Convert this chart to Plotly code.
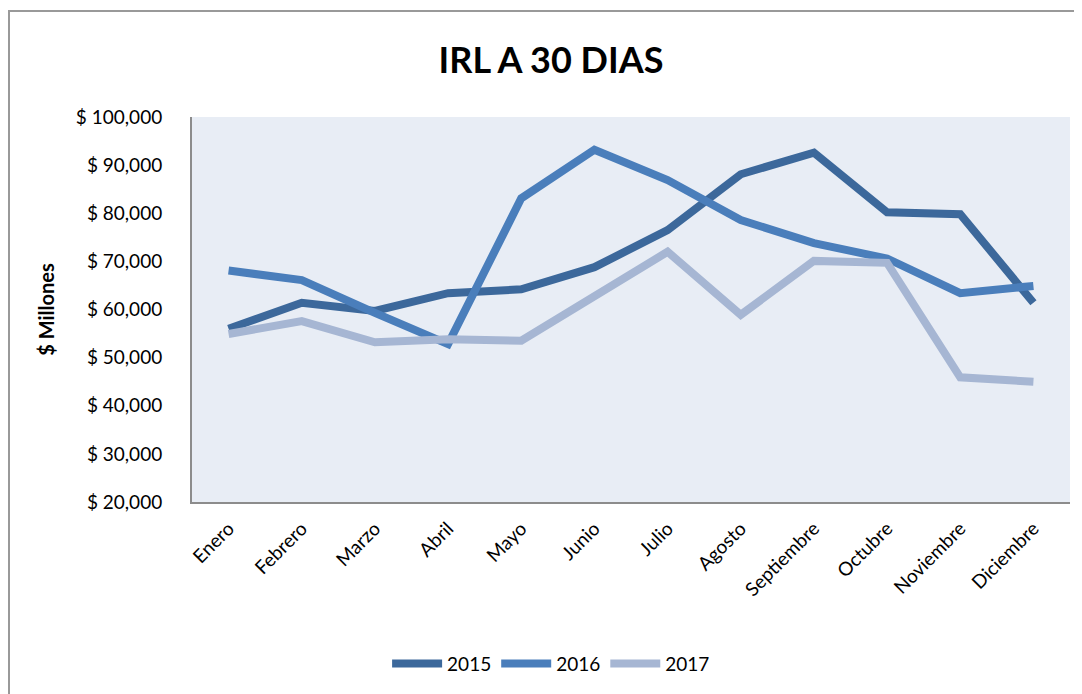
import plotly.graph_objects as go

months = ["Enero", "Febrero", "Marzo", "Abril", "Mayo", "Junio", "Julio",
          "Agosto", "Septiembre", "Octubre", "Noviembre", "Diciembre"]
v2015 = [56000, 61400, 59700, 63400, 64200, 68800, 76500, 88100, 92600, 80200, 79800, 61400]
v2016 = [68100, 66100, 59300, 52800, 83100, 93200, 86900, 78600, 73800, 70600, 63400, 64900]
v2017 = [54900, 57600, 53200, 53800, 53500, 62600, 72000, 58900, 70100, 69700, 45900, 45000]

series = [("2015", v2015, "#3C689B"), ("2016", v2016, "#4A7EBB"), ("2017", v2017, "#A6B6D3")]

FONT = "Lato, 'Open Sans', sans-serif"

W, H = 1074, 686  # page body has an 8px margin
L, T, PW, PH = 184, 109, 878, 385

fig = go.Figure()
for name, vals, col in series:
    fig.add_trace(go.Scatter(x=months, y=vals, name=name, mode="lines",
                             line=dict(color=col, width=8)))

fig.update_layout(
    width=W, height=H,
    margin=dict(l=L, r=W - L - PW, t=T, b=H - T - PH, autoexpand=False),
    paper_bgcolor="white",
    plot_bgcolor="#E8EDF5",
    font=dict(family=FONT, size=19, color="#000"),
    title=dict(text="<b>IRL A 30 DIAS</b>", x=543 / W, xref="container", xanchor="center",
               y=1 - 52 / H, yref="container", yanchor="middle",
               font=dict(size=36, family=FONT, color="#000")),
    showlegend=True,
    legend=dict(orientation="h", x=0.409, xanchor="center", y=-0.42, yanchor="middle",
                font=dict(size=19), itemwidth=50, bgcolor="rgba(0,0,0,0)"),
    xaxis=dict(range=[-0.5, 11.5], showgrid=False, showline=True, linecolor="#8C8C8C",
               linewidth=2, tickangle=-45, ticks="", ticklabelstandoff=6,
               tickfont=dict(size=19), zeroline=False, automargin=False),
    yaxis=dict(range=[20000, 100000], dtick=10000, showgrid=False, showline=True,
               linecolor="#8C8C8C", linewidth=2, tickprefix="$ ", tickformat=",",
               ticks="", ticklabelstandoff=24, tickfont=dict(size=19), zeroline=False,
               automargin=False,
               title=dict(text="<b>$ Millones</b>", font=dict(size=20), standoff=16)),
    shapes=[dict(type="rect", xref="paper", yref="paper",
                 x0=(1 - L) / PW, x1=1.2, y0=-1.0, y1=(502 - 11) / 385,
                 line=dict(color="#999999", width=2), fillcolor="rgba(0,0,0,0)", layer="below")],
)

fig.write_html("out.html")
